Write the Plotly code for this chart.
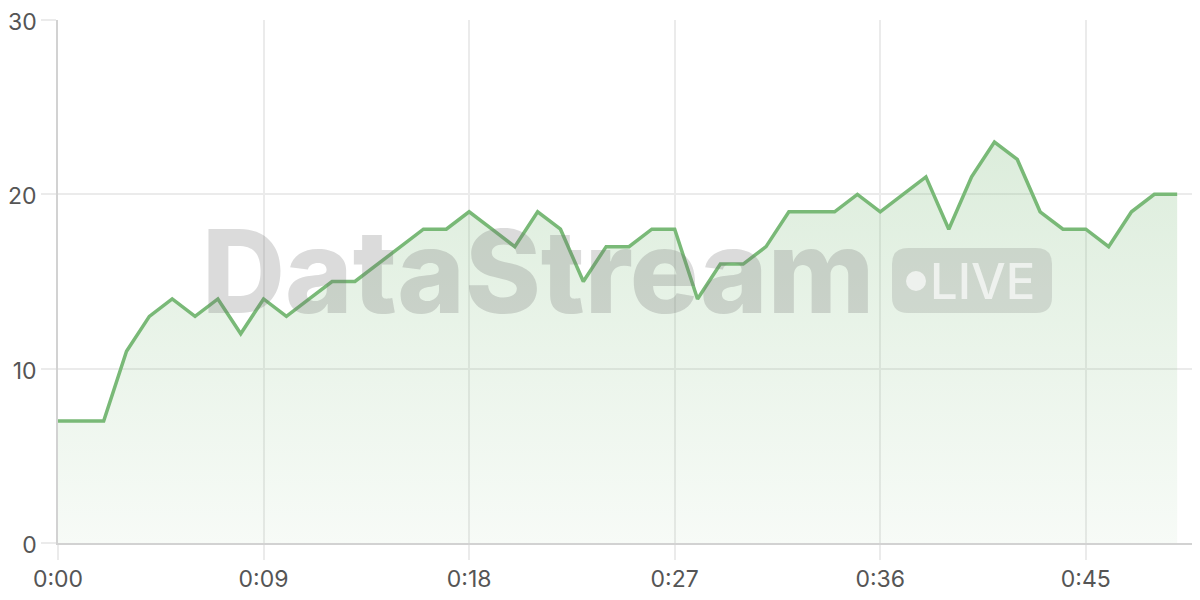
import plotly.graph_objects as go

# seconds since start and the measured value at each second
seconds = list(range(50))
values = [7, 7, 7, 11, 13, 14, 13, 14, 12, 14,
          13, 14, 15, 15, 16, 17, 18, 18, 19, 18,
          17, 19, 18, 15, 17, 17, 18, 18, 14, 16,
          16, 17, 19, 19, 19, 20, 19, 20, 21, 18,
          21, 23, 22, 19, 18, 18, 17, 19, 20, 20]

x_ticks = [0, 9, 18, 27, 36, 45]
x_labels = ['0:00', '0:09', '0:18', '0:27', '0:36', '0:45']
y_ticks = [0, 10, 20, 30]

LINE = '#79b977'
GRID = '#ebebeb'
TICK_FONT = dict(family='Inter, "Open Sans", sans-serif', size=23, color='#555555')

fig = go.Figure()
fig.add_trace(
    go.Scatter(
        x=seconds,
        y=values,
        mode='lines',
        line=dict(color=LINE, width=3.5),
        fill='tozeroy',
        fillgradient=dict(
            type='vertical',
            start=0,
            stop=max(values),
            colorscale=[[0, 'rgba(121,185,119,0.06)'], [1, 'rgba(121,185,119,0.26)']],
        ),
        hoverinfo='skip',
        showlegend=False,
    )
)

axis_style = dict(
    showgrid=True,
    gridcolor=GRID,
    gridwidth=1.5,
    zeroline=False,
    showline=True,
    linecolor='#d2d2d2',
    linewidth=1.5,
    ticks='outside',
    ticklen=15,
    tickcolor=GRID,
    tickwidth=1.5,
    tickfont=TICK_FONT,
    ticklabeloverflow='allow',
    automargin=False,
)

# the page body has an 8px margin, so the margins are offset to compensate
fig.update_layout(
    width=1200,
    height=600,
    margin=dict(l=50, r=8, t=12, b=65),
    plot_bgcolor='white',
    paper_bgcolor='white',
    xaxis=dict(range=[0, 50], tickmode='array', tickvals=x_ticks, ticktext=x_labels, **axis_style),
    yaxis=dict(range=[0, 30], tickmode='array', tickvals=y_ticks, ticklabelshift=2, **axis_style),
)

# watermark: "DataStream" plus a LIVE pill
fig.add_annotation(
    xref='paper', yref='paper',
    x=0.124, y=0.52,
    xanchor='left', yanchor='middle',
    text='DataStream',
    showarrow=False,
    font=dict(family='Inter, Roboto, sans-serif', size=115, weight=800, color='rgba(110,110,110,0.25)'),
)

px0, px1, py0, py1, r = 892, 1052, 248, 313, 16
def to_paper(px, py):
    return (px - 58) / 1142, (543 - py) / 523

pts = [
    ('M', px0 + r, py0), ('L', px1 - r, py0), ('Q', px1, py0, px1, py0 + r),
    ('L', px1, py1 - r), ('Q', px1, py1, px1 - r, py1), ('L', px0 + r, py1),
    ('Q', px0, py1, px0, py1 - r), ('L', px0, py0 + r), ('Q', px0, py0, px0 + r, py0),
]
path = ''
for p in pts:
    cmd = p[0]
    coords = p[1:]
    seg = []
    for i in range(0, len(coords), 2):
        a, b = to_paper(coords[i], coords[i + 1])
        seg.append(f'{a:.4f},{b:.4f}')
    path += cmd + ' '.join(seg) + ' '
path += 'Z'

fig.add_shape(type='path', xref='paper', yref='paper', path=path,
              fillcolor='rgba(110,110,110,0.2)', line=dict(width=0))

cx, cy = to_paper(916, 281)
rx, ry = 10 / 1142, 10 / 523
fig.add_shape(type='circle', xref='paper', yref='paper',
              x0=cx - rx, x1=cx + rx, y0=cy - ry, y1=cy + ry,
              fillcolor='rgba(255,255,255,0.65)', line=dict(width=0))

lx, ly = to_paper(928, 281)
fig.add_annotation(
    xref='paper', yref='paper', x=lx, y=ly,
    xanchor='left', yanchor='middle',
    text='LIVE', showarrow=False,
    font=dict(family='Inter, Roboto, sans-serif', size=49, weight=500, color='rgba(255,255,255,0.65)'),
)

fig.write_html('out.html')
